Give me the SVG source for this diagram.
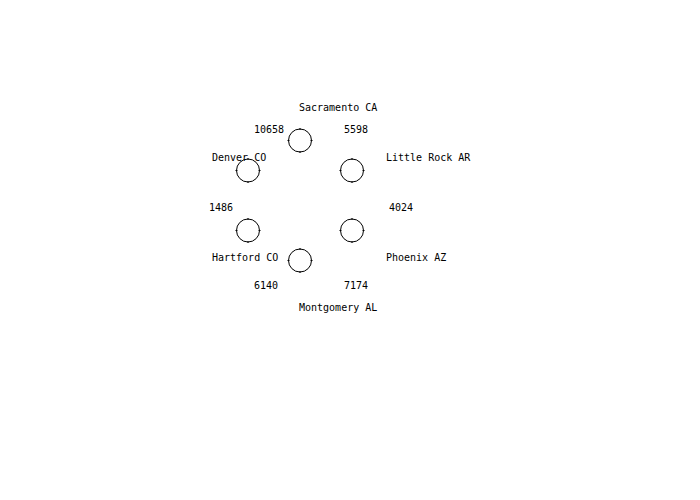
<svg xmlns="http://www.w3.org/2000/svg" width="700" height="500" viewBox="0 0 700 500">
<style>
text{font-family:"DejaVu Sans Mono","Liberation Mono",monospace;font-size:10px;fill:#000}
.ring{fill:none;stroke:#000;stroke-width:1}
</style>
<defs>
<g id="node" class="ring" fill="none" stroke="#000" stroke-width="1">
<circle cx="0" cy="0" r="11.5" fill="none"/>
<path d="M0,-12.5V-10.5M0,10.5V12.5M-12.5,0H-10.5M10.5,0H12.5" fill="none"/>
</g>
</defs>
<rect width="700" height="500" fill="#fff"/>
<g id="connectors"></g>
<g id="n-sacramento"><use href="#node" x="300" y="140.5"/><text x="299" y="111">Sacramento CA</text></g>
<g id="n-littlerock"><use href="#node" x="352" y="170.5"/><text x="386" y="161">Little Rock AR</text></g>
<g id="n-phoenix"><use href="#node" x="352" y="230.5"/><text x="386" y="261">Phoenix AZ</text></g>
<g id="n-montgomery"><use href="#node" x="300" y="260.5"/><text x="299" y="311">Montgomery AL</text></g>
<g id="n-hartford"><use href="#node" x="248" y="230.5"/><text x="212" y="261">Hartford CO</text></g>
<g id="n-denver"><use href="#node" x="248" y="170.5"/><text x="212" y="161">Denver CO</text></g>
<g id="values">
<text x="254" y="133">10658</text>
<text x="344" y="133">5598</text>
<text x="389" y="211">4024</text>
<text x="344" y="289">7174</text>
<text x="254" y="289">6140</text>
<text x="209" y="211">1486</text>
</g>
</svg>
